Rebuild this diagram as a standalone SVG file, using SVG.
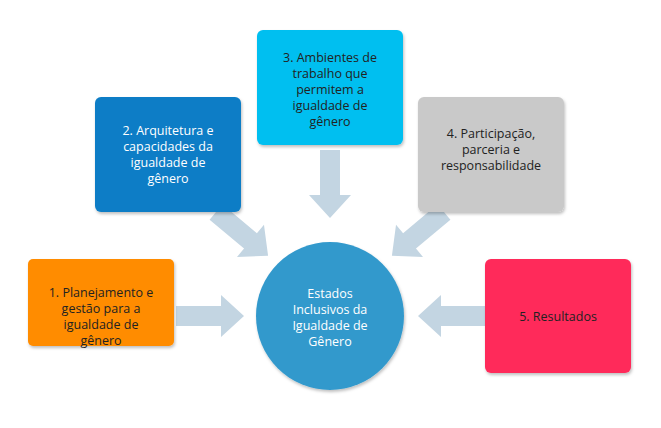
<svg xmlns="http://www.w3.org/2000/svg" width="661" height="428" viewBox="0 0 661 428">
<style>
text{font-family:"Open Sans","Liberation Sans",sans-serif;font-size:12.5px;text-anchor:middle}
.d{fill:#222}.w{fill:#fff}
.ar{fill:#C3D5E2}
</style>
<defs><filter id="s" x="-10%" y="-10%" width="125%" height="125%"><feDropShadow dx="1" dy="2" stdDeviation="1.5" flood-opacity="0.25"/></filter>
<polygon id="arr" points="0,-10 45,-10 45,-21 68,0 45,21 45,10 0,10"/></defs>
<rect width="661" height="428" fill="#fff"/>
<g id="connectors">
<use href="#arr" class="ar" transform="translate(176,316)"/>
<use href="#arr" class="ar" transform="translate(486,316) rotate(180)"/>
<use href="#arr" class="ar" transform="translate(330,150) rotate(90)"/>
<use href="#arr" class="ar" transform="translate(216,212) rotate(40)"/>
<use href="#arr" class="ar" transform="translate(444,212) rotate(140)"/>
</g>
<g id="n1"><rect x="28" y="259" width="146" height="87" rx="5" fill="#FF8C00" filter="url(#s)"/>
<text class="d" x="101" y="297">1. Planejamento e</text><text class="d" x="101" y="313">gestão para a</text><text class="d" x="101" y="329">igualdade de</text><text class="d" x="101" y="345">gênero</text></g>
<g id="n2"><rect x="95" y="97" width="146" height="115" rx="6" fill="#0A7DC6" filter="url(#s)"/>
<text class="w" x="168" y="135">2. Arquitetura e</text><text class="w" x="168" y="151">capacidades da</text><text class="w" x="168" y="167">igualdade de</text><text class="w" x="168" y="183">gênero</text></g>
<g id="n3"><rect x="257" y="30" width="146" height="115" rx="6" fill="#00BFF0" filter="url(#s)"/>
<text class="d" x="330" y="62">3. Ambientes de</text><text class="d" x="330" y="78">trabalho que</text><text class="d" x="330" y="94">permitem a</text><text class="d" x="330" y="110">igualdade de</text><text class="d" x="330" y="126">gênero</text></g>
<g id="n4"><rect x="418" y="97" width="146" height="115" rx="6" fill="#C9C9C9" filter="url(#s)"/>
<text class="d" x="491" y="138">4. Participação,</text><text class="d" x="491" y="154">parceria e</text><text class="d" x="491" y="170">responsabilidade</text></g>
<g id="n5"><rect x="485" y="259" width="146" height="114" rx="6" fill="#FF2A5A" filter="url(#s)"/>
<text class="d" x="558" y="321">5. Resultados</text></g>
<g id="center"><circle cx="330" cy="316" r="74" fill="#3399CC" filter="url(#s)"/>
<text class="w" x="330" y="298">Estados</text><text class="w" x="330" y="314">Inclusivos da</text><text class="w" x="330" y="330">Igualdade de</text><text class="w" x="330" y="346">Gênero</text></g>
</svg>
